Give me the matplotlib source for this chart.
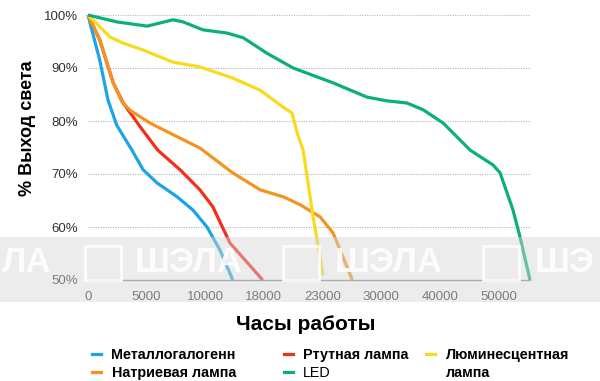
import matplotlib
matplotlib.use("Agg")
import matplotlib.pyplot as plt
from matplotlib.lines import Line2D
from matplotlib.patches import Rectangle

plt.rcParams['font.family'] = ['Liberation Sans', 'DejaVu Sans']

# x positions are in tick-index units (the hour axis is not linear)
hour_ticks = ["0", "5000", "10000", "18000", "23000", "30000", "40000", "50000"]
y_ticks = [50, 60, 70, 80, 90, 100]

metal_x = [0, 0.20, 0.34, 0.49, 0.75, 0.94, 1.18, 1.52, 1.79, 2.03, 2.25, 2.47]
metal_y = [100, 91.5, 84, 79.2, 74.5, 70.8, 68.3, 65.7, 63.2, 60, 55.7, 50]

merc_x = [0, 0.20, 0.43, 0.60, 0.89, 1.19, 1.57, 1.91, 2.13, 2.42, 2.98]
merc_y = [100, 95.3, 87.2, 83.4, 78.9, 74.5, 70.8, 67, 63.8, 57, 50]

sod_x = [0, 0.20, 0.43, 0.58, 0.72, 1.06, 1.40, 1.91, 2.47, 2.94, 3.33, 3.62,
         3.96, 4.18, 4.35, 4.51]
sod_y = [100, 95.3, 87.2, 83.6, 82, 79.6, 77.7, 74.9, 70.2, 67, 65.7, 64.2,
         61.9, 58.9, 54.3, 50]

fluo_x = [0, 0.38, 0.60, 0.94, 1.45, 1.91, 2.47, 2.94, 3.33, 3.48, 3.57, 3.67,
          3.84, 4.01]
fluo_y = [100, 95.8, 94.7, 93.4, 91.1, 90.2, 88.1, 85.8, 82.6, 81.5, 77.7, 74.5,
          61.9, 50.9]

led_x = [0, 0.49, 1.01, 1.23, 1.45, 1.62, 1.96, 2.37, 2.65, 3.05, 3.50, 4.18,
         4.76, 5.10, 5.44, 5.72, 6.06, 6.52, 6.91, 7.03, 7.25, 7.37, 7.54]
led_y = [100, 98.7, 97.9, 98.5, 99.1, 98.7, 97.2, 96.6, 95.7, 92.8, 90, 87.2,
         84.5, 83.8, 83.4, 82.1, 79.6, 74.5, 71.7, 70.2, 63.2, 58.1, 50]

c_metal = '#1ca4e6'
c_merc = '#f1301a'
c_sod = '#f39322'
c_fluo = '#f8da1e'
c_led = '#0caf78'

fig = plt.figure(figsize=(6, 3.81), dpi=100)
ax = fig.add_axes([88 / 600, 1 - 280 / 381, 442 / 600, 265 / 381])

lw = 2.3
kw = dict(lw=lw, solid_joinstyle='round', solid_capstyle='butt', clip_on=False, zorder=3)
ax.plot(metal_x, metal_y, color=c_metal, **kw)
ax.plot(merc_x, merc_y, color=c_merc, **kw)
ax.plot(sod_x, sod_y, color=c_sod, **kw)
ax.plot(fluo_x, fluo_y, color=c_fluo, **kw)
ax.plot(led_x, led_y, color=c_led, **kw)

ax.set_xlim(0, 7.54)
ax.set_ylim(50, 100)
ax.set_xticks(range(len(hour_ticks)))
ax.set_xticklabels(hour_ticks)
ax.set_yticks(y_ticks)
ax.set_yticklabels([f"{v}%" for v in y_ticks])
ax.tick_params(length=0, labelsize=9.5, labelcolor='#333333')
ax.tick_params(axis='y', pad=7)
ax.tick_params(axis='x', pad=8)

for s in ['left', 'right', 'top']:
    ax.spines[s].set_visible(False)
ax.spines['bottom'].set_color('#8a8a8a')
ax.spines['bottom'].set_linewidth(1.0)
for v in y_ticks[1:]:
    ax.axhline(v, color='#b5b5b5', lw=0.8, ls=(0, (1, 1.2)), zorder=1)

fig.text(27 / 600, 1 - 128 / 381, "% Выход света", rotation=90, ha='center',
         va='center', fontsize=13, fontweight='bold')
fig.text(306 / 600, 1 - 324 / 381, "Часы работы", ha='center', va='center',
         fontsize=15, fontweight='bold')

# legend: first two columns
fs = 10.4
h1 = [Line2D([], [], color=c, lw=2.3) for c in (c_metal, c_sod, c_merc, c_led)]
leg1 = fig.legend(h1, ["Металлогалогенн", "Натриевая лампа", "Ртутная лампа", "LED"],
                  ncol=2, loc='upper left', bbox_to_anchor=(92 / 600, 1 - 348 / 381),
                  frameon=False, borderpad=0, borderaxespad=0,
                  prop=dict(size=fs, weight='bold'), handlelength=0.65,
                  handletextpad=0.7, columnspacing=3.3, labelspacing=0.25)
leg1.get_texts()[3].set_fontweight('normal')

# third column (two-line label)
h2 = [Line2D([], [], color=c_fluo, lw=2.3), Line2D([], [], color='none')]
fig.legend(h2, ["Люминесцентная", "лампа"], ncol=1, loc='upper left',
           bbox_to_anchor=(426 / 600, 1 - 348 / 381), frameon=False, borderpad=0,
           borderaxespad=0, prop=dict(size=fs, weight='bold'), handlelength=0.65,
           handletextpad=0.7, labelspacing=0.25)

# watermark band
fig.patches.append(Rectangle((0, 1 - 302 / 381), 1, 65 / 381, transform=fig.transFigure,
                             facecolor='#d6d6d6', alpha=0.45, edgecolor='none', zorder=5))
for x0, word in [(2, "ЛА"), (135, "ШЭЛА"), (335, "ШЭЛА"), (535, "ШЭ")]:
    fig.text(x0 / 600, 1 - 262 / 381, word, ha='left', va='center', fontsize=25,
             fontweight='bold', color='white', alpha=0.85, zorder=6)
for x0 in [85, 283, 483]:
    fig.patches.append(Rectangle((x0 / 600, 1 - 280 / 381), 36 / 600, 34 / 381,
                                 transform=fig.transFigure, facecolor='none',
                                 edgecolor='white', lw=2, alpha=0.85, zorder=6))

fig.savefig("out.png", dpi=100)
